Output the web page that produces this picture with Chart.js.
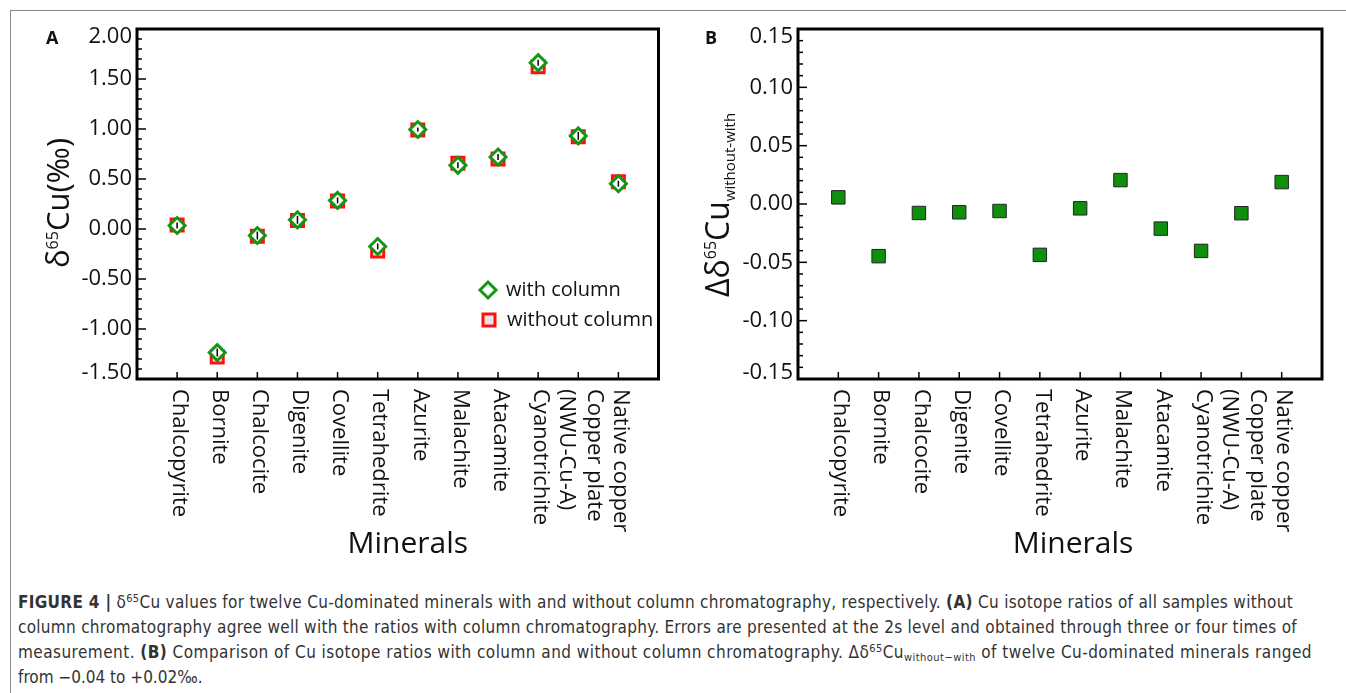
<!DOCTYPE html>
<html>
<head>
<meta charset="utf-8">
<script src="https://cdn.jsdelivr.net/npm/chart.js@4.4.1/dist/chart.umd.min.js"></script>
<style>
  body { margin: 0; background: #fff; width: 1346px; height: 693px; overflow: hidden; position: relative; }
  #frame { position: absolute; left: 10px; top: 10px; width: 1340px; height: 700px; border-top: 1.5px solid #8a8a8a; border-left: 1.5px solid #8a8a8a; }
  #cA { position: absolute; left: 0; top: 0; }
  #cB { position: absolute; left: 670px; top: 0; }
  #caption { position: absolute; left: 18px; top: 590px; font-family: "Liberation Sans Narrow", "DejaVu Sans Condensed", sans-serif;
             font-size: 17px; line-height: 25px; color: #333; white-space: nowrap; }
  #caption .ln { display: block; }
  #caption sup { font-size: 11px; vertical-align: 6px; line-height: 0; }
  #caption sub { font-size: 11px; vertical-align: -3px; line-height: 0; }
</style>
</head>
<body>
<div id="frame"></div>
<canvas id="cA" width="670" height="570"></canvas>
<canvas id="cB" width="676" height="570"></canvas>
<div id="caption">
  <span class="ln"><b>FIGURE 4 |</b> δ<sup>65</sup>Cu values for twelve Cu-dominated minerals with and without column chromatography, respectively. <b>(A)</b> Cu isotope ratios of all samples without</span>
  <span class="ln">column chromatography agree well with the ratios with column chromatography. Errors are presented at the 2s level and obtained through three or four times of</span>
  <span class="ln">measurement. <b>(B)</b> Comparison of Cu isotope ratios with column and without column chromatography. Δδ<sup>65</sup>Cu<sub>without−with</sub> of twelve Cu-dominated minerals ranged</span>
  <span class="ln">from −0.04 to +0.02‰.</span>
</div>
<script>
// data
const minerals = ['Chalcopyrite', 'Bornite', 'Chalcocite', 'Digenite', 'Covellite', 'Tetrahedrite',
  'Azurite', 'Malachite', 'Atacamite', 'Cyanotrichite', ['Copper plate', '(NWU-Cu-A)'], 'Native copper'];
const withColumn = [0.035, -1.236, -0.065, 0.092, 0.286, -0.175, 0.995, 0.637, 0.720, 1.663, 0.931, 0.453];
const withoutColumn = [0.041, -1.281, -0.073, 0.085, 0.280, -0.219, 0.991, 0.657, 0.699, 1.623, 0.923, 0.472];
const errWith = [0.03, 0.04, 0.04, 0.04, 0.03, 0.03, 0.02, 0.03, 0.03, 0.03, 0.04, 0.03];
const deltaWithoutWith = [0.0057, -0.0447, -0.0077, -0.0071, -0.0060, -0.0436, -0.0037, 0.0205, -0.0211, -0.0402, -0.0079, 0.0188];
const yTicksA = [-1.5, -1.0, -0.5, 0, 0.5, 1.0, 1.5, 2.0];
const yTicksB = [-0.15, -0.10, -0.05, 0, 0.05, 0.10, 0.15];

const GREEN = '#139613';
const RED = '#ff1010';
const FONT = '"Open Sans", sans-serif';

function scales(yMin, yMax, yTicks, yWidth) {
  return {
    x: {
      type: 'linear', min: 0, max: 13,
      grid: { display: false }, border: { display: false }, ticks: { display: false },
      afterBuildTicks: s => { s.ticks = minerals.map((m, i) => ({ value: i + 1 })); },
      afterFit: s => { s.height = 191; }
    },
    y: {
      type: 'linear', min: yMin, max: yMax,
      grid: { display: false }, border: { display: false }, ticks: { display: false },
      afterBuildTicks: s => { s.ticks = yTicks.map(v => ({ value: v })); },
      afterFit: s => { s.width = yWidth; }
    }
  };
}

// frame, inward ticks, tick labels, axis titles
function decor(o) {
  return {
    id: 'decor',
    afterDatasetsDraw(chart) {
      if (!o.err) return;
      const ctx = chart.ctx, xs = chart.scales.x, ys = chart.scales.y;
      ctx.save();
      ctx.strokeStyle = '#000';
      ctx.lineWidth = 1.5;
      o.err.vals.forEach((v, i) => {
        const px = xs.getPixelForValue(i + 1);
        ctx.beginPath();
        ctx.moveTo(px, ys.getPixelForValue(v - o.err.e[i]));
        ctx.lineTo(px, ys.getPixelForValue(v + o.err.e[i]));
        ctx.stroke();
      });
      ctx.restore();
    },
    afterDraw(chart) {
      const ctx = chart.ctx, a = chart.chartArea, xs = chart.scales.x, ys = chart.scales.y;
      ctx.save();
      ctx.strokeStyle = '#000';
      ctx.lineWidth = 1.5;
      // y minor/major ticks
      const n = Math.round((o.yMax - o.yMin) / o.minor);
      for (let i = 0; i <= n; i++) {
        const v = o.yMin + i * o.minor;
        const r = v / o.major;
        const len = Math.abs(r - Math.round(r)) < 1e-6 ? 9 : 5;
        const py = ys.getPixelForValue(v);
        ctx.beginPath();
        ctx.moveTo(a.left, py);
        ctx.lineTo(a.left + len, py);
        ctx.stroke();
      }
      // x ticks
      xs.ticks.forEach(t => {
        const px = xs.getPixelForValue(t.value);
        ctx.beginPath();
        ctx.moveTo(px, a.bottom);
        ctx.lineTo(px, a.bottom - 7);
        ctx.stroke();
      });
      // frame
      ctx.lineWidth = 3;
      ctx.strokeRect(a.left, a.top, a.right - a.left, a.bottom - a.top);

      // y tick labels
      ctx.fillStyle = '#111';
      ctx.font = '22px ' + FONT;
      ctx.textAlign = 'right';
      ctx.textBaseline = 'middle';
      ys.ticks.forEach(t => {
        const py = ys.getPixelForValue(t.value);
        const yl = Math.min(Math.max(py, a.top + 8), a.bottom - 6);
        ctx.fillText(t.value.toFixed(2), a.left - 5, yl);
      });

      // x labels, rotated clockwise
      ctx.textAlign = 'left';
      minerals.forEach((m, i) => {
        const lines = Array.isArray(m) ? m : [m];
        const px = xs.getPixelForValue(i + 1) + 2;
        ctx.save();
        ctx.translate(px, a.bottom + 10);
        ctx.rotate(Math.PI / 2);
        lines.forEach((s, k) => ctx.fillText(s, 0, (k - (lines.length - 1) / 2) * 28));
        ctx.restore();
      });

      // x title
      ctx.font = '30px ' + FONT;
      ctx.textAlign = 'center';
      ctx.textBaseline = 'alphabetic';
      ctx.fillText('Minerals', (a.left + a.right) / 2 + o.titleDx, 553);

      // panel letter
      ctx.font = 'bold 18px ' + FONT;
      ctx.textAlign = 'left';
      ctx.fillText(o.letter, o.letterX, 44);

      // y title, pieces rotated -90
      ctx.save();
      ctx.translate(o.yTitle.x, o.yTitle.y);
      ctx.rotate(-Math.PI / 2);
      let cx = 0;
      o.yTitle.parts.forEach(p => {
        ctx.font = p.size + 'px ' + FONT;
        ctx.fillText(p.t, cx, p.dy || 0);
        cx += ctx.measureText(p.t).width;
      });
      ctx.restore();

      // legend
      if (o.legend) {
        o.legend.forEach(l => {
          ctx.fillStyle = l.fill;
          ctx.strokeStyle = l.stroke;
          ctx.lineWidth = l.bw;
          Chart.helpers.drawPoint(ctx, { pointStyle: l.style, radius: l.r, rotation: 0, borderWidth: l.bw }, l.x, l.y);
          ctx.fillStyle = '#111';
          ctx.font = '20px ' + FONT;
          ctx.textBaseline = 'middle';
          ctx.fillText(l.text, l.x + 18, l.y);
        });
      }
      ctx.restore();
    }
  };
}

const pts = arr => arr.map((v, i) => ({ x: i + 1, y: v }));

new Chart(document.getElementById('cA'), {
  type: 'scatter',
  data: {
    datasets: [
      { label: 'with column', data: pts(withColumn), pointStyle: 'rectRot', pointRadius: 8,
        backgroundColor: '#ffffff', borderColor: GREEN, borderWidth: 3 },
      { label: 'without column', data: pts(withoutColumn), pointStyle: 'rect', pointRadius: 8.5,
        backgroundColor: '#e6e6e6', borderColor: RED, borderWidth: 3 }
    ]
  },
  options: {
    responsive: false, animation: false,
    layout: { padding: { top: 29, right: 9, left: 0, bottom: 0 } },
    plugins: { legend: { display: false }, tooltip: { enabled: false } },
    scales: scales(-1.5, 2.0, yTicksA, 137)
  },
  plugins: [decor({
    yMin: -1.5, yMax: 2.0, minor: 0.1, major: 0.5, titleDx: 10, letter: 'A', letterX: 46,
    err: { vals: withColumn, e: errWith },
    yTitle: { x: 69, y: 268, parts: [{ t: 'δ', size: 31 }, { t: '65', size: 16, dy: -11 }, { t: 'Cu(‰)', size: 31 }] },
    legend: [
      { style: 'rectRot', r: 8, bw: 3, fill: '#ffffff', stroke: GREEN, x: 488, y: 290, text: 'with column' },
      { style: 'rect', r: 8.5, bw: 3, fill: '#e6e6e6', stroke: RED, x: 489, y: 320, text: 'without column' }
    ]
  })]
});

new Chart(document.getElementById('cB'), {
  type: 'scatter',
  data: {
    datasets: [
      { label: 'Δδ65Cu without-with', data: pts(deltaWithoutWith), pointStyle: 'rect', pointRadius: 9.5,
        backgroundColor: '#0e8f0e', borderColor: '#222', borderWidth: 1 }
    ]
  },
  options: {
    responsive: false, animation: false,
    layout: { padding: { top: 29, right: 24, left: 0, bottom: 0 } },
    plugins: { legend: { display: false }, tooltip: { enabled: false } },
    scales: scales(-0.15, 0.15, yTicksB, 128)
  },
  plugins: [decor({
    yMin: -0.15, yMax: 0.15, minor: 0.01, major: 0.05, titleDx: 13, letter: 'B', letterX: 35,
    yTitle: { x: 59, y: 297, parts: [{ t: 'Δδ', size: 32 }, { t: '65', size: 16, dy: -13 }, { t: 'Cu', size: 32 }, { t: 'without-with', size: 15, dy: 6 }] }
  })]
});

// spread caption lines to the widths they have in the figure
const targets = [1275, 1279, 1294];
document.querySelectorAll('#caption .ln').forEach((el, i) => {
  if (i >= targets.length) return;
  el.style.display = 'inline-block';
  const w = el.getBoundingClientRect().width;
  const chars = el.textContent.trim().replace(/\s+/g, ' ').length;
  el.style.letterSpacing = ((targets[i] - w) / chars) + 'px';
  el.style.display = 'block';
});
</script>
</body>
</html>
